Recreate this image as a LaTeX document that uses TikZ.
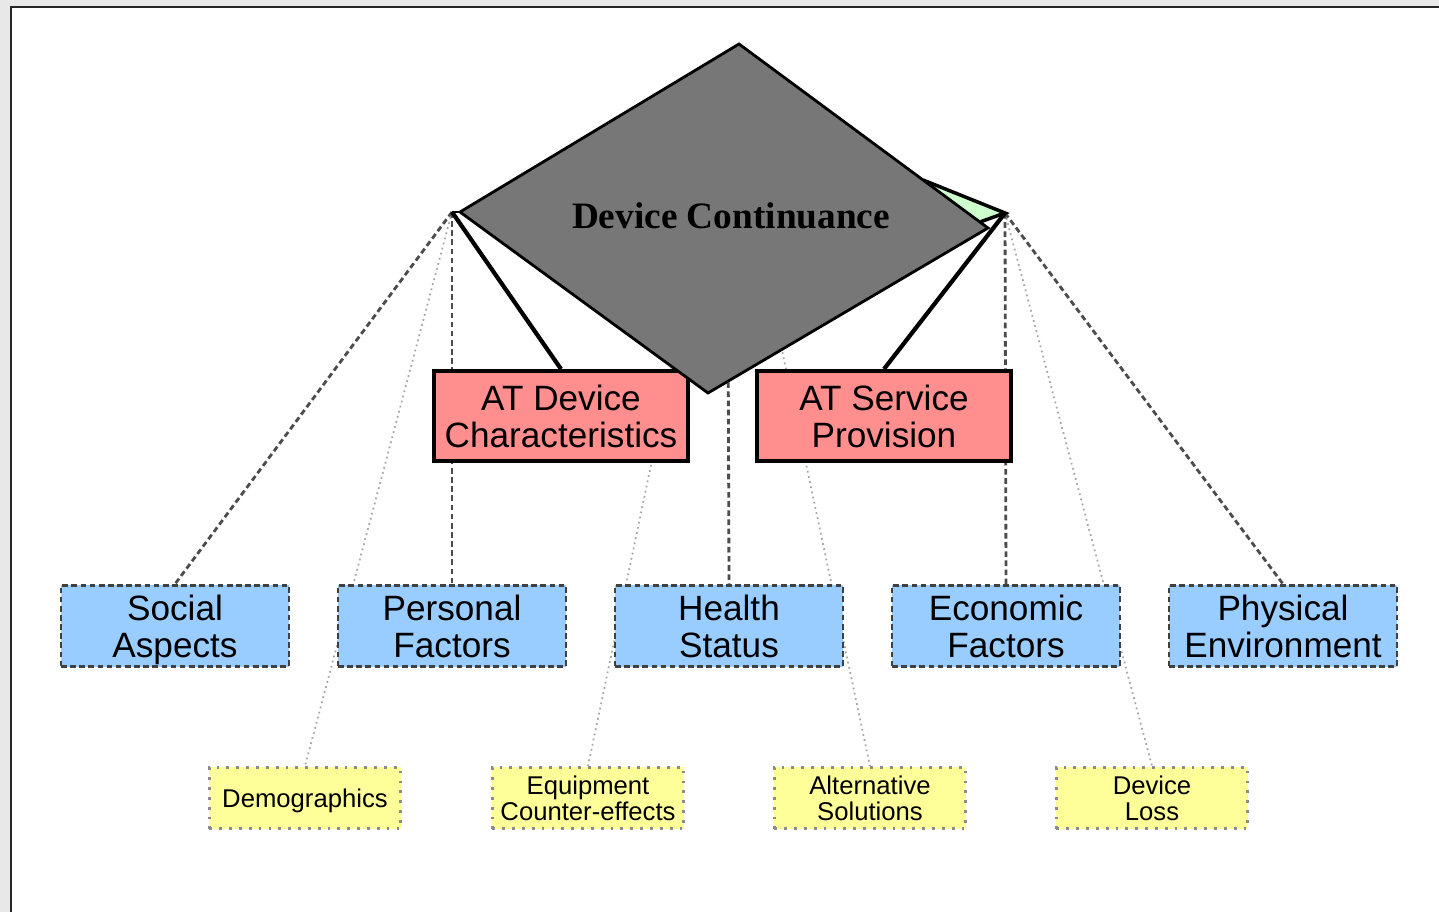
\documentclass[tikz,border=0pt]{standalone}
\usepackage{fontspec}
\setmainfont{Liberation Sans}
\newfontfamily\titleserif{Liberation Serif}
\usetikzlibrary{backgrounds}
\definecolor{pagegray}{RGB}{232,232,232}
\definecolor{atred}{RGB}{255,142,142}
\definecolor{factorblue}{RGB}{153,204,255}
\definecolor{subyellow}{RGB}{255,255,153}
\definecolor{wedgegreen}{RGB}{204,255,204}
\definecolor{diagray}{RGB}{119,119,119}
\tikzset{
  atbox/.style={draw=black, line width=1.1pt, fill=atred, minimum width=2.54cm,
    minimum height=0.9cm, inner sep=0pt, align=center, text depth=0pt,
    font=\fontsize{10}{10.4}\selectfont},
  factorbox/.style={draw=black!75, line width=0.8pt, dash pattern=on 1.6pt off 1pt,
    fill=factorblue, minimum width=2.28cm, minimum height=0.81cm, inner sep=0pt,
    align=center, text depth=0pt, font=\fontsize{10}{10.6}\selectfont},
  subbox/.style={draw=black!45, line width=0.8pt, dotted, fill=subyellow,
    minimum width=1.91cm, minimum height=0.61cm, inner sep=0pt, align=center,
    text depth=0pt, font=\fontsize{7.3}{7.5}\selectfont},
  strong/.style={line width=1.2pt, black},
  weak/.style={line width=0.8pt, black!70, dash pattern=on 1.6pt off 1pt},
  faint/.style={line width=0.5pt, black!35, densely dotted}
}
\begin{document}
\begin{tikzpicture}[x=0.01cm, y=-0.01cm]
  \useasboundingbox (0,0) rectangle (1439,912);
  % hubs and hidden sources
  \coordinate (hubL) at (452,212);
  \coordinate (hubR) at (1005,213);
  \coordinate (eqsrc) at (704,212);
  \coordinate (altsrc) at (754,218);
  \coordinate (hsrc) at (728,300);
  % second level
  \node[atbox] (atdev) at (561,416) {AT Device\\Characteristics};
  \node[atbox] (atserv) at (884,416) {AT Service\\Provision};
  % factors
  \node[factorbox] (social) at (175,626) {Social\\Aspects};
  \node[factorbox] (personal) at (452,626) {Personal\\Factors};
  \node[factorbox] (health) at (729,626) {Health\\Status};
  \node[factorbox] (economic) at (1006,626) {Economic\\Factors};
  \node[factorbox] (physical) at (1283,626) {Physical\\Environment};
  % sub factors
  \node[subbox] (demo) at (305,798) {Demographics};
  \node[subbox] (equip) at (588,798) {Equipment\\Counter-effects};
  \node[subbox] (altsol) at (870,798) {Alternative\\Solutions};
  \node[subbox] (loss) at (1152,798) {Device\\Loss};
  \begin{pgfonlayer}{background}
    \fill[pagegray] (0,0) rectangle (1439,912);
    \fill[white] (11,7) rectangle (1439,912);
    \draw[line width=0.7pt, black!85] (11,912) -- (11,7) -- (1439,7);
    \draw[faint] (hubL) -- (demo.north);
    \draw[faint] (eqsrc) -- (equip.north);
    \draw[faint] (altsrc) -- (altsol.north);
    \draw[faint] (hubR) -- (loss.north);
    \draw[weak] (hubL) -- (social.north);
    \draw[weak] (hubL) -- (personal.north);
    \draw[weak] (hsrc) -- (health.north);
    \draw[weak] (hubR) -- (economic.north);
    \draw[weak] (hubR) -- (physical.north);
    \draw[strong] (hubL) -- (atdev.north);
    \draw[strong] (hubR) -- (atserv.north);
  \end{pgfonlayer}
  % top diamond
  \coordinate (dl) at (460,212);
  \coordinate (dt) at (739,44);
  \coordinate (dr) at (988,228);
  \coordinate (db) at (708,393);
  \coordinate (wa) at (923,180);
  \coordinate (wb) at (980,222);
  \fill[wedgegreen] (wa) -- (hubR) -- (wb) -- cycle;
  \draw[line width=1pt] (wa) -- (hubR) -- (wb);
  \draw[line width=0.8pt] (hubL) -- (dl);
  \draw[line width=0.8pt, fill=diagray] (dl) -- (dt) -- (dr) -- (db) -- cycle;
  \node[font=\titleserif\bfseries\fontsize{10.6}{12}\selectfont] (cont) at (731,216) {Device Continuance};
\end{tikzpicture}
\end{document}
